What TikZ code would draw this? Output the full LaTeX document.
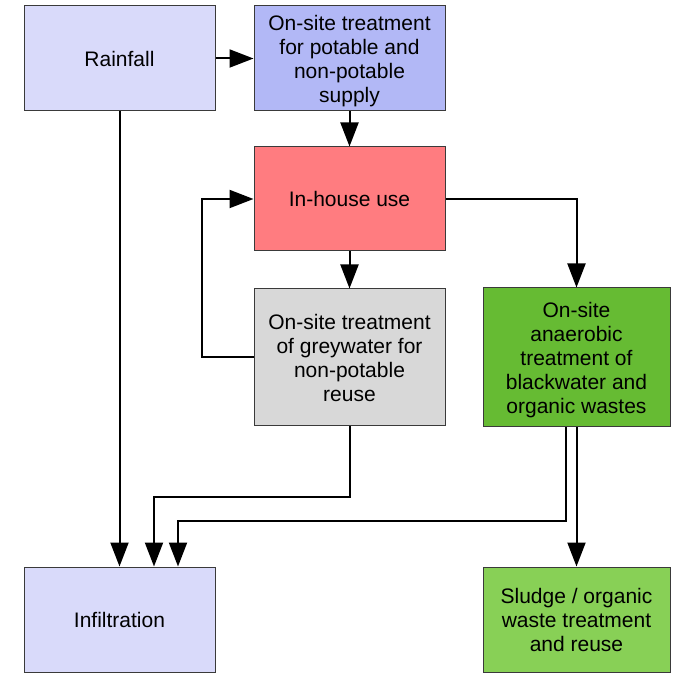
\documentclass[tikz,border=0pt]{standalone}
\usepackage{fontspec}
\setmainfont{Liberation Sans}
\usetikzlibrary{arrows.meta}
\definecolor{cRain}{RGB}{217,218,250}
\definecolor{cPot}{RGB}{178,184,246}
\definecolor{cInh}{RGB}{255,124,128}
\definecolor{cGrey}{RGB}{216,216,216}
\definecolor{cAna}{RGB}{102,187,51}
\definecolor{cSl}{RGB}{136,208,86}
\definecolor{cEdge}{RGB}{58,58,58}
\begin{document}
\begin{tikzpicture}[x=1pt,y=-1pt,
  box/.style={draw=cEdge,line width=1pt,rectangle,inner sep=0pt,align=center,
    font=\fontsize{21}{24}\selectfont,minimum width=191pt,text depth=0pt},
  arr/.style={draw=black,line width=2pt,-{Triangle[length=24pt,width=18pt]}}]
\useasboundingbox (0,0) rectangle (686,676);
\node[box,fill=cRain,minimum height=105pt] (rain) at (119.5,58.5) {Rainfall};
\node[box,fill=cPot,minimum height=105pt] (pot) at (349.5,58.5) {On-site treatment\\for potable and\\non-potable\\supply};
\node[box,fill=cInh,minimum height=104pt] (inh) at (349.5,199) {In-house use};
\node[box,fill=cGrey,minimum height=137pt] (grey) at (349.5,357.5) {On-site treatment\\of greywater for\\non-potable\\reuse};
\node[box,fill=cAna,minimum width=187pt,minimum height=139pt] (ana) at (576.5,357.5) {On-site\\anaerobic\\treatment of\\blackwater and\\organic wastes};
\node[box,fill=cRain,minimum height=105pt] (inf) at (119.5,619.5) {Infiltration};
\node[box,fill=cSl,minimum width=187pt,minimum height=105pt] (sl) at (576.5,619.5) {Sludge / organic\\waste treatment\\and reuse};
\coordinate (lp) at (202,278);
\coordinate (g1) at (154,497);
\coordinate (a2) at (178,521);
\draw[arr] (rain.east) -- (pot.west);
\draw[arr] (pot.south) -- (inh.north);
\draw[arr] (inh.south) -- (grey.north);
\draw[arr] (grey.west) -| (lp) |- (inh.west);
\draw[arr] (inh.east) -| (ana.north);
\draw[arr] (rain.south) -- (inf.north -| rain.south);
\draw[arr] (grey.south) |- (g1) -- (g1 |- inf.north);
\draw[arr] ([xshift=-11pt]ana.south) |- (a2) -- (a2 |- inf.north);
\draw[arr] (ana.south) -- (sl.north);
\end{tikzpicture}
\end{document}
